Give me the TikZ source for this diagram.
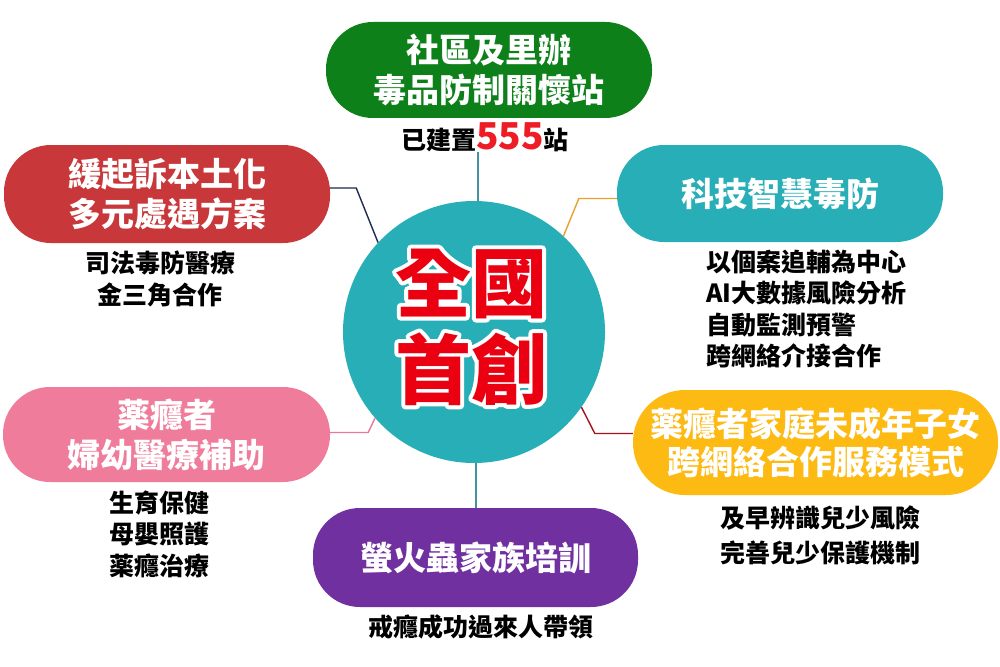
\documentclass[tikz,border=0pt]{standalone}
\usepackage{fontspec}
\setmainfont{Noto Sans CJK TC}
\definecolor{cgreen}{RGB}{14,128,26}
\definecolor{cred}{RGB}{200,56,58}
\definecolor{cteal}{RGB}{40,174,182}
\definecolor{cyellow}{RGB}{252,186,18}
\definecolor{cpink}{RGB}{240,124,156}
\definecolor{cpurple}{RGB}{112,48,160}
\definecolor{ccircle}{RGB}{40,174,182}
\definecolor{bigred}{RGB}{235,0,18}
\definecolor{numred}{RGB}{238,28,37}
\definecolor{lteal}{RGB}{70,145,160}
\definecolor{lnavy}{RGB}{30,42,80}
\definecolor{lorange}{RGB}{232,160,48}
\definecolor{ldred}{RGB}{165,20,30}
\definecolor{lpink}{RGB}{232,120,152}
\newcommand{\strokeon}{\special{pdf:literal direct 1 Tr 8 w 1 j 1 1 1 RG}}
\newcommand{\strokeoff}{\special{pdf:literal direct 0 Tr}}
\begin{document}
\begin{tikzpicture}[x=1pt,y=-1pt,
  pill/.style={rounded corners=47pt, inner sep=0pt, align=center, text=white,
    font=\fontsize{33}{40}\selectfont\bfseries},
  subtext/.style={inner sep=0pt, align=center, text=black,
    font=\fontsize{25}{31.5}\selectfont\bfseries},
  bigtext/.style={inner sep=0pt, align=center, font=\fontsize{76}{87}\selectfont\bfseries},
  conn/.style={line width=1.4pt}]
\useasboundingbox (0,0) rectangle (1000,666);
\fill[white] (0,0) rectangle (1000,666);

% center circle
\node[circle, fill=ccircle, minimum size=262pt, inner sep=0pt] (c) at (474,332) {};
\node[bigtext, text=white] (cw) at (471,327) {\strokeon 全國\\\strokeon 首創\strokeoff};
\node[bigtext, text=bigred] (ct) at (cw) {全國\\首創};

% boxes
\node[pill, fill=cgreen, minimum width=326pt, minimum height=96pt] (green) at (489,70)
  {社區及里辦\\毒品防制關懷站};
\node[pill, fill=cred, minimum width=326pt, minimum height=98pt] (red) at (167,194)
  {緩起訴本土化\\多元處遇方案};
\node[pill, fill=cteal, minimum width=326pt, minimum height=97pt] (teal) at (780,193.5)
  {科技智慧毒防};
\node[pill, fill=cyellow, minimum width=365pt, minimum height=105pt, rounded corners=52pt,
  font=\fontsize{33}{38}\selectfont\bfseries] (yellow) at (815.5,442.5)
  {薬癮者家庭未成年子女\\跨網絡合作服務模式};
\node[pill, fill=cpink, minimum width=327pt, minimum height=95pt] (pink) at (166.5,434.5)
  {薬癮者\\婦幼醫療補助};
\node[pill, fill=cpurple, minimum width=325pt, minimum height=99pt] (purple) at (475.5,557.5)
  {螢火蟲家族培訓};

% sub texts
\node[subtext] (s1) at (485,137) {已建置{\color{numred}\fontsize{37}{37}\selectfont 555}站};
\node[subtext] (s2) at (160,279) {司法毒防醫療\\金三角合作};
\node[subtext, align=left, anchor=west] (s3) at (706,309)
  {以個案追輔為中心\\AI大數據風險分析\\自動監測預警\\跨網絡介接合作};
\node[subtext, font=\fontsize{25}{35}\selectfont\bfseries] (s4) at (820,535.5)
  {及早辨識兒少風險\\完善兒少保護機制};
\node[subtext] (s5) at (159,534) {生育保健\\母嬰照護\\薬癮治療};
\node[subtext] (s6) at (481,627) {戒癮成功過來人帶領};

% connectors
\draw[conn, lteal] ([xshift=4pt]c.north) -- ([xshift=4pt]c.north |- s1.south);
\draw[conn, lteal] ([xshift=2pt]c.south) -- ([xshift=2pt]c.south |- purple.north);
\draw[conn, lnavy] ([yshift=6pt]red.east) -- ++(26,0) -- (c.137);
\draw[conn, lorange] ([yshift=-5pt]teal.west) -- ++(-38,0) -- (c.47);
\draw[conn, ldred] ([yshift=9pt]yellow.west) -- ++(-38,0) -- (c.325);
\draw[conn, lpink] ([yshift=2pt]pink.east) -- ++(38,0) -- (c.221);
\end{tikzpicture}
\end{document}
